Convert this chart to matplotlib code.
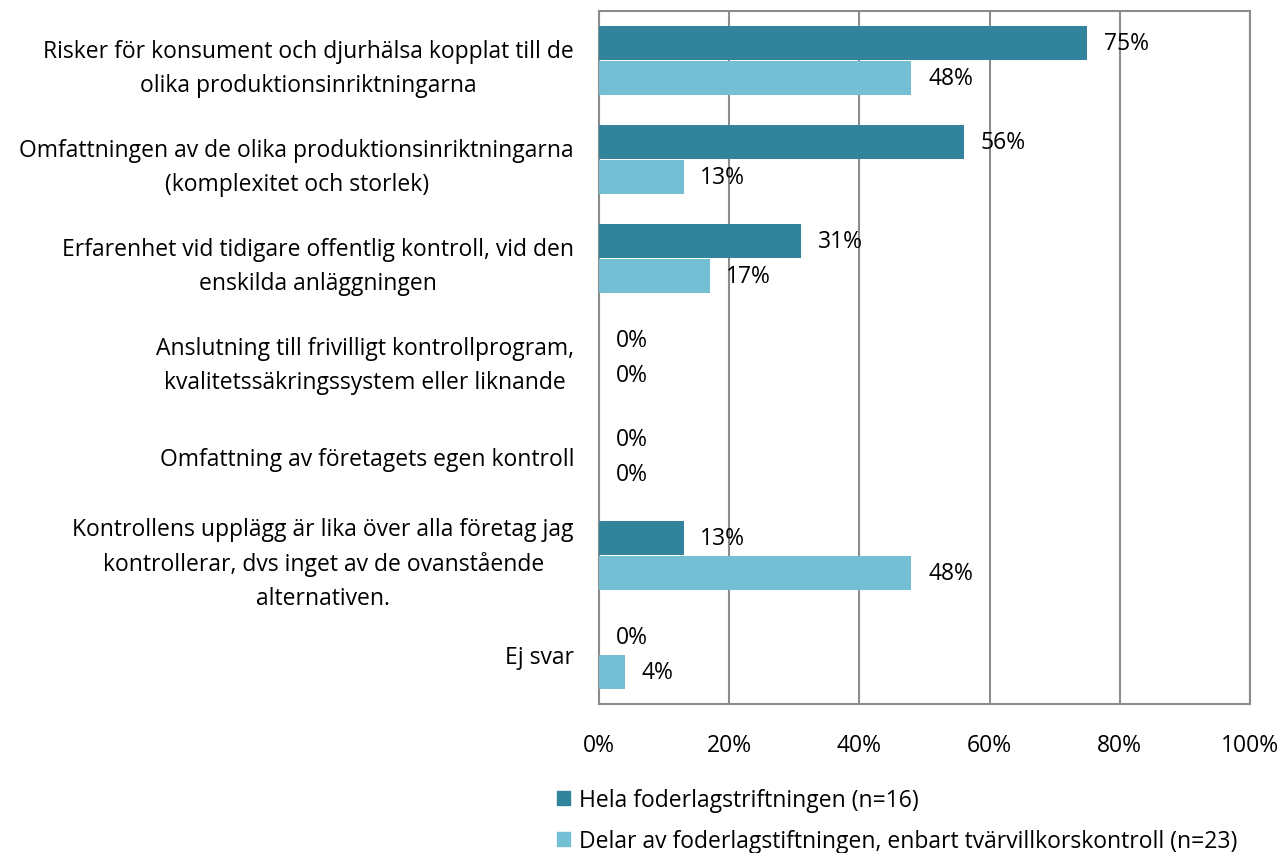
import matplotlib.pyplot as plt
import numpy as np
from matplotlib.patches import Patch

plt.rcParams["font.family"] = ["Open Sans", "DejaVu Sans"]

CATEGORIES = [
    "Risker för konsument och djurhälsa kopplat till de\nolika produktionsinriktningarna",
    "Omfattningen av de olika produktionsinriktningarna\n(komplexitet och storlek)",
    "Erfarenhet vid tidigare offentlig kontroll, vid den\nenskilda anläggningen",
    "Anslutning till frivilligt kontrollprogram,\nkvalitetssäkringssystem eller liknande",
    "Omfattning av företagets egen kontroll",
    "Kontrollens upplägg är lika över alla företag jag\nkontrollerar, dvs inget av de ovanstående\nalternativen.",
    "Ej svar",
]
SERIES_NAMES = ["Hela foderlagstriftningen (n=16)",
                "Delar av foderlagstiftningen, enbart tvärvillkorskontroll (n=23)"]
HELA = [75, 56, 31, 0, 0, 13, 0]
DELAR = [48, 13, 17, 0, 0, 48, 4]
XTICKS = [0, 20, 40, 60, 80, 100]

C_DARK, C_LIGHT, C_GRID = "#31849b", "#74bfd4", "#8c8c8c"
FS = 16.5

fig = plt.figure(figsize=(12.82, 8.54), dpi=100)
ax = fig.add_axes([599 / 1282, 1 - 705 / 854, 651 / 1282, 693 / 854])

y = np.arange(len(CATEGORIES))
h = 0.345
off = 0.18
ax.barh(y - off, HELA, height=h, color=C_DARK, zorder=3)
ax.barh(y + off, DELAR, height=h, color=C_LIGHT, zorder=3)

for yy, v in zip(y - off, HELA):
    ax.annotate(f"{v}%", (v, yy), xytext=(12, 0), textcoords="offset points",
                va="center", ha="left", fontsize=FS, color="black", zorder=4)
for yy, v in zip(y + off, DELAR):
    ax.annotate(f"{v}%", (v, yy), xytext=(12, 0), textcoords="offset points",
                va="center", ha="left", fontsize=FS, color="black", zorder=4)

ax.set_xlim(0, 100)
ax.set_ylim(len(CATEGORIES) - 0.5, -0.5)
ax.set_xticks(XTICKS)
ax.set_xticklabels([f"{t}%" for t in XTICKS], fontsize=FS)
ax.set_yticks(y)
ax.set_yticklabels(CATEGORIES, fontsize=FS)
for lab in ax.get_yticklabels():
    lab.set_multialignment("center")
    lab.set_linespacing(1.55)
ax.tick_params(axis="both", length=0)
ax.tick_params(axis="y", pad=18)
ax.tick_params(axis="x", pad=21)
ax.grid(axis="x", color=C_GRID, lw=1.5, zorder=1)
for s in ax.spines.values():
    s.set_color(C_GRID)
    s.set_linewidth(1.5)

handles = [Patch(color=C_DARK), Patch(color=C_LIGHT)]
fig.legend(handles, SERIES_NAMES, loc="upper left", bbox_to_anchor=(548 / 1282, 1 - 780 / 854),
           frameon=False, fontsize=FS, handlelength=0.55, handleheight=0.55,
           handletextpad=0.4, labelspacing=0.75, borderaxespad=0)

fig.savefig("out.png", dpi=100, facecolor="white")
